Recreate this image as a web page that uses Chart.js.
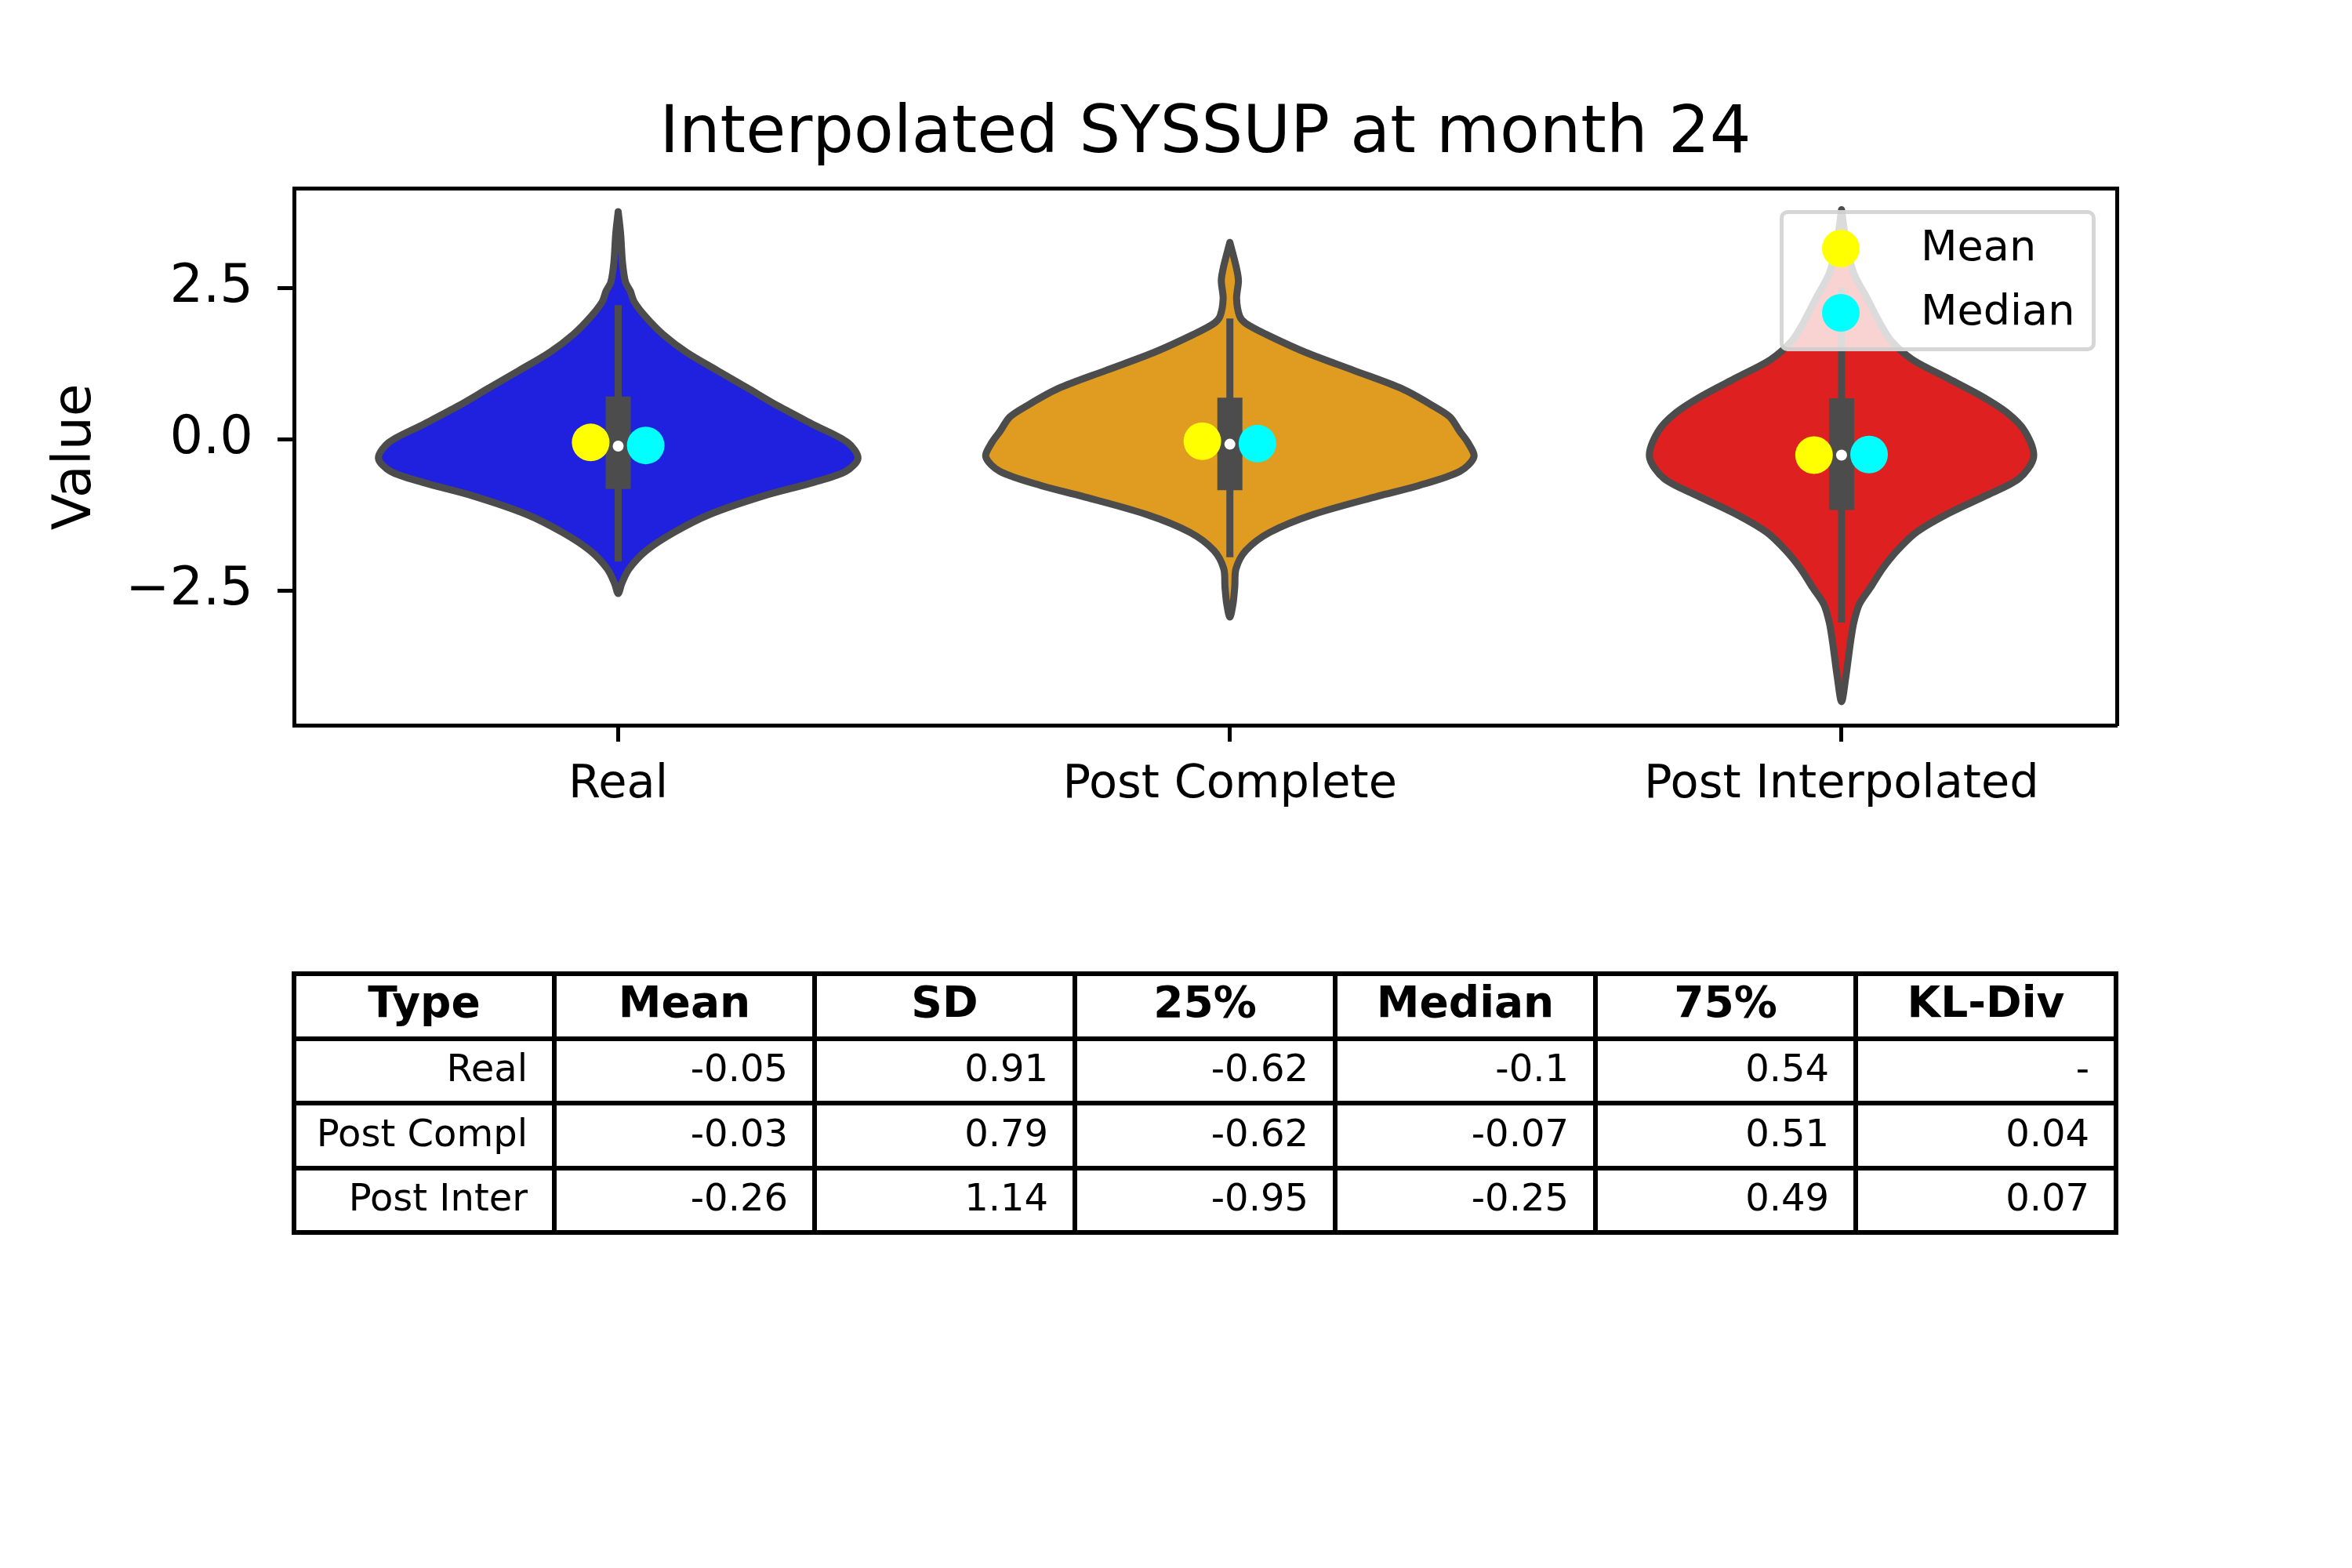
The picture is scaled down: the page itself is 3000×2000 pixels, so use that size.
<!DOCTYPE html>
<html><head><meta charset="utf-8">
<script src="https://cdn.jsdelivr.net/npm/chart.js@4.4.1/dist/chart.umd.min.js"></script>
<style>
html,body{margin:0;padding:0;background:#fff;width:3000px;height:2000px;overflow:hidden;font-family:"DejaVu Sans",sans-serif;}
#wrap{position:relative;width:3000px;height:2000px;}
#c{position:absolute;left:0;top:0;}
#legend{position:absolute;left:2270px;top:268px;width:403px;height:180px;box-sizing:border-box;border:5px solid rgba(204,204,204,0.8);border-radius:10px;background:rgba(255,255,255,0.8);}
.lm{position:absolute;width:48px;height:48px;border-radius:50%;}
.lt{position:absolute;font-size:54px;line-height:54px;color:#000;white-space:nowrap;}
#tbl{position:absolute;left:372px;top:1239px;border-collapse:separate;border-spacing:0;border-left:6px solid #000;border-top:6px solid #000;table-layout:fixed;}
#tbl td{box-sizing:border-box;width:332px;height:82.5px;border-right:6px solid #000;border-bottom:6px solid #000;padding:0 31px 7px 0;text-align:right;font-size:48px;vertical-align:middle;white-space:nowrap;overflow:hidden;}
#tbl tr.h td{font-weight:bold;font-size:55px;text-align:center;padding:0 0 10px 0;}
</style>
</head><body>
<div id="wrap">
<canvas id="c" width="3000" height="2000"></canvas>
<div id="legend"></div>
<div class="lm" style="left:2324px;top:293px;background:#ffff00"></div>
<div class="lm" style="left:2324px;top:375px;background:#00ffff"></div>
<div class="lt" style="left:2450px;top:287px">Mean</div>
<div class="lt" style="left:2450px;top:369px">Median</div>
<table id="tbl"></table>
</div>
<script>
// ---- data ----
const categories = ['Real', 'Post Complete', 'Post Interpolated'];
const yTickValues = [-2.5, 0, 2.5];
const yTickLabels = ['\u22122.5', '0.0', '2.5'];

// violin density profiles: value levels and half-widths (category units)
const realY = [3.77, 3.4, 2.93, 2.6, 2.45, 2.28, 2.04, 1.74, 1.44, 1.14, 0.84, 0.55, 0.25, -0.05, -0.31, -0.53, -0.71, -0.94, -1.24, -1.54, -1.84, -2.14, -2.38, -2.55];
const realW = [0, 0.004, 0.007, 0.012, 0.02, 0.026, 0.044, 0.073, 0.112, 0.162, 0.213, 0.262, 0.318, 0.375, 0.392, 0.372, 0.32, 0.236, 0.15, 0.091, 0.046, 0.018, 0.006, 0];
const compY = [3.26, 2.87, 2.63, 2.33, 2.04, 1.92, 1.74, 1.44, 1.14, 0.84, 0.55, 0.37, 0.13, -0.05, -0.29, -0.53, -0.77, -0.94, -1.24, -1.54, -1.84, -2.14, -2.44, -2.73, -2.94];
const compW = [0, 0.01, 0.014, 0.011, 0.016, 0.026, 0.059, 0.124, 0.203, 0.281, 0.333, 0.36, 0.376, 0.389, 0.399, 0.376, 0.307, 0.242, 0.137, 0.065, 0.026, 0.01, 0.008, 0.005, 0];
const interY = [3.80, 3.23, 2.75, 2.33, 1.92, 1.62, 1.32, 1.02, 0.72, 0.43, 0.13, -0.29, -0.65, -0.94, -1.24, -1.54, -1.84, -2.14, -2.44, -2.73, -3.03, -3.33, -3.63, -3.93, -4.34];
const interW = [0, 0.008, 0.02, 0.042, 0.063, 0.082, 0.116, 0.172, 0.228, 0.272, 0.3, 0.314, 0.29, 0.234, 0.172, 0.122, 0.091, 0.067, 0.048, 0.029, 0.02, 0.015, 0.011, 0.007, 0];

// inner box plot
const boxQ1 = [-0.82, -0.84, -1.17];
const boxQ3 = [0.71, 0.69, 0.68];
const whiskerLo = [-2.02, -1.95, -3.03];
const whiskerHi = [2.22, 2.0, 2.51];
const boxMid = [-0.11, -0.08, -0.26];

// mean / median markers
const meanVals = [-0.05, -0.03, -0.26];
const medianVals = [-0.1, -0.07, -0.25];
const dodge = 0.045;

const fillColors = ['#2020df', '#df9c20', '#df2020'];

// table
const tableHeader = ['Type', 'Mean', 'SD', '25%', 'Median', '75%', 'KL-Div'];
const tableType = ['Real', 'Post Compl', 'Post Inter'];
const tableMean = ['-0.05', '-0.03', '-0.26'];
const tableSD = ['0.91', '0.79', '1.14'];
const tableQ25 = ['-0.62', '-0.62', '-0.95'];
const tableMedian = ['-0.1', '-0.07', '-0.25'];
const tableQ75 = ['0.54', '0.51', '0.49'];
const tableKL = ['-', '0.04', '0.07'];

// ---- build ----
const profiles = [[realY, realW], [compY, compW], [interY, interW]];
function outline(center, ys, ws) {
  const pts = [];
  for (let i = 0; i < ys.length; i++) pts.push({x: center + ws[i], y: ys[i]});
  for (let i = ys.length - 2; i >= 0; i--) pts.push({x: center - ws[i], y: ys[i]});
  return pts;
}
const GREY = '#4c4c4c';
const datasets = [];
profiles.forEach((p, i) => {
  datasets.push({data: outline(i, p[0], p[1]), borderColor: GREY, backgroundColor: fillColors[i],
    fill: 'shape', borderWidth: 9, pointRadius: 0, tension: 0.3, borderJoinStyle: 'round', borderCapStyle: 'round', order: 10});
  datasets.push({data: [{x: i, y: whiskerLo[i]}, {x: i, y: whiskerHi[i]}], borderColor: GREY, borderWidth: 9,
    pointRadius: 0, fill: false, borderCapStyle: 'butt', order: 8});
  datasets.push({data: [{x: i, y: boxQ1[i]}, {x: i, y: boxQ3[i]}], borderColor: GREY, borderWidth: 32,
    pointRadius: 0, fill: false, borderCapStyle: 'butt', order: 7});
  datasets.push({data: [{x: i, y: boxMid[i]}], showLine: false, pointRadius: 7, pointBackgroundColor: '#ffffff',
    pointBorderWidth: 0, order: 6});
});
datasets.push({label: 'Mean', data: meanVals.map((v, i) => ({x: i - dodge, y: v})), showLine: false,
  pointRadius: 24, pointBackgroundColor: '#ffff00', pointBorderWidth: 0, order: 2});
datasets.push({label: 'Median', data: medianVals.map((v, i) => ({x: i + dodge, y: v})), showLine: false,
  pointRadius: 24, pointBackgroundColor: '#00ffff', pointBorderWidth: 0, order: 1});

Chart.defaults.font.family = '"DejaVu Sans", sans-serif';
Chart.defaults.color = '#000';

const XMIN = -0.53, XMAX = 2.45, YMIN = -4.73, YMAX = 4.15;
new Chart(document.getElementById('c'), {
  type: 'line',
  data: {datasets},
  options: {
    responsive: false, animation: false, devicePixelRatio: 1, events: [],
    layout: {padding: {left: 0, right: 300, top: 0, bottom: 925}},
    plugins: {
      legend: {display: false}, tooltip: {enabled: false},
      title: {display: true, text: 'Interpolated SYSSUP at month 24', fullSize: false,
        font: {size: 83, weight: 'normal'}, color: '#000', padding: {top: 123, bottom: 18}}
    },
    scales: {
      x: {type: 'linear', position: 'bottom', min: XMIN, max: XMAX,
        afterBuildTicks: s => { s.ticks = categories.map((c, i) => ({value: i})); },
        ticks: {callback: v => categories[v], font: {size: 59}, color: '#000', padding: 20, autoSkip: false, maxRotation: 0, minRotation: 0},
        grid: {drawOnChartArea: false, drawTicks: true, tickLength: 21, tickWidth: 5, tickColor: '#000'},
        border: {display: true, color: '#000', width: 5},
        afterFit: s => { s.height = 150; }
      },
      y: {type: 'linear', position: 'left', min: YMIN, max: YMAX,
        afterBuildTicks: s => { s.ticks = yTickValues.map(v => ({value: v})); },
        ticks: {callback: (v) => yTickLabels[yTickValues.indexOf(v)], font: {size: 67}, color: '#000', padding: 31},
        grid: {drawOnChartArea: false, drawTicks: true, tickLength: 21, tickWidth: 5, tickColor: '#000'},
        border: {display: true, color: '#000', width: 5},
        title: {display: true, text: 'Value', font: {size: 68}, color: '#000', padding: {top: 57, bottom: 0}},
        afterFit: s => { s.width = 375; }
      },
      x2: {type: 'linear', position: 'top', min: XMIN, max: XMAX,
        ticks: {display: false}, grid: {display: false},
        border: {display: true, color: '#000', width: 5},
        afterFit: s => { s.height = 0; }
      },
      y2: {type: 'linear', position: 'right', min: YMIN, max: YMAX,
        ticks: {display: false}, grid: {display: false},
        border: {display: true, color: '#000', width: 5},
        afterFit: s => { s.width = 0; }
      }
    }
  }
});

// table
const tbl = document.getElementById('tbl');
const hr = document.createElement('tr'); hr.className = 'h';
tableHeader.forEach(h => { const td = document.createElement('td'); td.textContent = h; hr.appendChild(td); });
tbl.appendChild(hr);
tableType.forEach((t, i) => {
  const tr = document.createElement('tr');
  [t, tableMean[i], tableSD[i], tableQ25[i], tableMedian[i], tableQ75[i], tableKL[i]].forEach(v => {
    const td = document.createElement('td'); td.textContent = v; tr.appendChild(td);
  });
  tbl.appendChild(tr);
});
</script>
</body></html>
